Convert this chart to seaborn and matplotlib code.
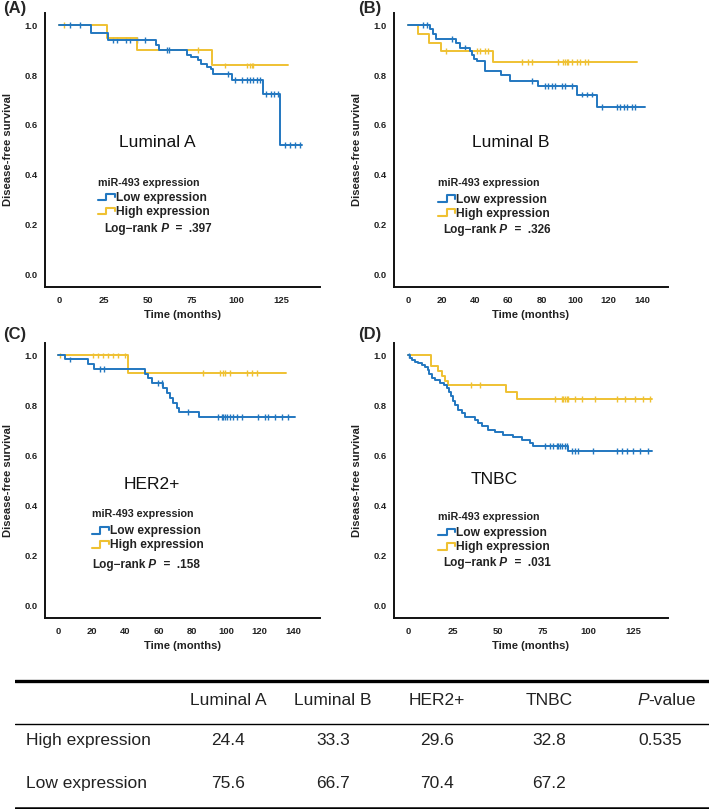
import numpy as np
import pandas as pd
import matplotlib
matplotlib.use("Agg")
import matplotlib.pyplot as plt
import seaborn as sns
from matplotlib import font_manager as fm
from matplotlib.legend_handler import HandlerBase
from matplotlib.lines import Line2D

# ---------- 1. data ----------
panels = ["(A)", "(B)", "(C)", "(D)"]
subtypes = ["Luminal A", "Luminal B", "HER2+", "TNBC"]
logrank_p = [".397", ".326", ".158", ".031"]
x_ticks = [[0, 25, 50, 75, 100, 125],
           [0, 20, 40, 60, 80, 100, 120, 140],
           [0, 20, 40, 60, 80, 100, 120, 140],
           [0, 25, 50, 75, 100, 125]]
y_ticks = [0.0, 0.2, 0.4, 0.6, 0.8, 1.0]

# Luminal A
a_low_t = [18, 27.5, 54.6, 56.5, 71.9, 74.5, 78, 80, 83.5, 85.5, 87, 97.3, 115, 124.4]
a_low_s = [0.969, 0.940, 0.921, 0.902, 0.883, 0.872, 0.859, 0.846, 0.833, 0.823, 0.806, 0.782, 0.726, 0.520]
a_low_end = 136.6
a_low_cens = [6.2, 11.8, 30.4, 32.7, 38, 40, 44, 48.4, 60.6, 62, 95, 99, 102.9, 105.7, 107.5,
              109.4, 111.3, 113.2, 116.6, 119.4, 121.3, 123.2, 127.3, 130, 132.9, 135.7]
a_high_t = [26.8, 43.7, 86.3]
a_high_s = [0.950, 0.902, 0.839]
a_high_end = 128.7
a_high_cens = [3, 78.4, 93.5, 105.7, 107.5, 108.5, 109.4]

# Luminal B
b_low_t = [13.2, 15, 17, 29, 31, 37, 38.5, 39.7, 41, 46, 55.7, 61, 78, 101, 113]
b_low_s = [0.984, 0.966, 0.947, 0.930, 0.910, 0.899, 0.883, 0.867, 0.856, 0.816, 0.800, 0.778, 0.755, 0.722, 0.672]
b_low_end = 141.8
b_low_cens = [9, 11.4, 26.1, 34.1, 74, 82, 84, 86, 88, 92, 94, 98, 104, 107, 110,
              116, 125, 127, 129, 131, 134, 136]
b_high_t = [6.2, 12.6, 19.7, 50.7]
b_high_s = [0.966, 0.930, 0.896, 0.853]
b_high_end = 136.8
b_high_cens = [23, 41, 43, 46, 48, 68, 72, 74, 90, 93, 94, 95, 96, 98, 101, 103, 106, 108]

# HER2+
c_low_t = [4.2, 18, 21.6, 51.8, 53.8, 55.8, 62.7, 64.7, 66.7, 68.7, 70.7, 72.3, 84]
c_low_s = [0.984, 0.965, 0.945, 0.927, 0.909, 0.890, 0.868, 0.848, 0.828, 0.808, 0.790, 0.775, 0.752]
c_low_end = 141.2
c_low_cens = [7.1, 25, 27.6, 59.7, 61.8, 77.6, 95.5, 97.5, 98.5, 99.5, 100.5, 102.4, 104.4,
              106.4, 109.4, 119.3, 123.3, 125.3, 129.2, 133.2, 137.2]
c_high_t = [41.9]
c_high_s = [0.930]
c_high_end = 135.6
c_high_cens = [1.2, 21, 24, 27, 30, 33, 36, 40, 86.5, 96.5, 98, 99.5, 102.4, 112.5, 115.5, 118.5]

# TNBC
d_low_t = [1.1, 2.0, 3.9, 5.7, 7.6, 9.4, 10.9, 11.9, 13.1, 15.0, 17.8, 20.2, 21.5, 22.8, 23.9,
           25.2, 26.1, 27.9, 29.8, 31.7, 37.2, 39.1, 40.9, 44.6, 48.3, 52.9, 58.5, 63.1, 67.8,
           69.6, 89.1]
d_low_s = [0.988, 0.980, 0.974, 0.968, 0.961, 0.953, 0.940, 0.924, 0.910, 0.900, 0.890, 0.881,
           0.870, 0.854, 0.837, 0.819, 0.801, 0.783, 0.770, 0.752, 0.743, 0.729, 0.716, 0.703,
           0.693, 0.683, 0.672, 0.663, 0.649, 0.636, 0.616]
d_low_end = 135.4
d_low_cens = [0.5, 76.1, 78.9, 80.7, 82.6, 83.5, 84.4, 85.4, 87.2, 88.1, 90.9, 92.8, 94.6,
              102.9, 115.9, 118.7, 121.5, 125.2, 128.9, 133.5]
d_high_t = [12.8, 16.5, 18.7, 20.6, 22.0, 54.3, 60.4]
d_high_s = [0.957, 0.937, 0.917, 0.899, 0.880, 0.855, 0.826]
d_high_end = 135.4
d_high_cens = [35, 40, 81.7, 85.4, 86.3, 87.2, 88.1, 89.1, 92.8, 96.5, 103.9, 115.9, 120.6,
               126.1, 130.7, 134.4]

# table under the curves (% of patients)
table_cols = ["Luminal A", "Luminal B", "HER2+", "TNBC"]
table_rows = ["High expression", "Low expression"]
high_pct = [24.4, 33.3, 29.6, 32.8]
low_pct = [75.6, 66.7, 70.4, 67.2]
table_p = "0.535"

curves = [
    (a_low_t, a_low_s, a_low_end, a_low_cens, a_high_t, a_high_s, a_high_end, a_high_cens),
    (b_low_t, b_low_s, b_low_end, b_low_cens, b_high_t, b_high_s, b_high_end, b_high_cens),
    (c_low_t, c_low_s, c_low_end, c_low_cens, c_high_t, c_high_s, c_high_end, c_high_cens),
    (d_low_t, d_low_s, d_low_end, d_low_cens, d_high_t, d_high_s, d_high_end, d_high_cens),
]

# ---------- 2. style ----------
def pick_font(names):
    for n in names:
        try:
            fm.findfont(n, fallback_to_default=False)
            return n
        except Exception:
            pass
    return None

arial = pick_font(["Liberation Sans", "Arial"]) or "DejaVu Sans"
narrow = pick_font(["Liberation Sans Narrow", "Arial Narrow"])
# no narrow face -> plain bold Arial-like at a smaller size to keep the widths
k = 1.0 if narrow else 0.9
narrow = narrow or arial

sns.set_theme(style="white")
plt.rcParams["font.family"] = [narrow, "DejaVu Sans"]
plt.rcParams["font.weight"] = "bold"

BLUE = "#2277c0"
YELLOW = "#efc132"
pal = {"Low": BLUE, "High": YELLOW}


class StepHandler(HandlerBase):
    # little step glyph used by the KM legend
    def create_artists(self, legend, orig_handle, xdescent, ydescent,
                       width, height, fontsize, trans):
        xs = np.array([0, 0.5, 0.5, 1.0, 1.0]) * width - xdescent
        ys = np.array([0.1, 0.1, 0.85, 0.85, 0.45]) * height - ydescent
        ln = Line2D(xs, ys, color=orig_handle.get_color(),
                    lw=orig_handle.get_linewidth(), transform=trans)
        return [ln]


def km_frame(t, s, end, group):
    return pd.DataFrame({"time": [0] + list(t) + [end],
                         "surv": [1.0] + list(s) + [s[-1]],
                         "group": group})


def cens_frame(t, s, cens, group):
    full = np.array([1.0] + list(s))
    idx = np.searchsorted(np.array(t), np.array(cens), side="right")
    return pd.DataFrame({"time": cens, "surv": full[idx], "group": group})


W, H = 709, 809
fig = plt.figure(figsize=(W / 100, H / 100), dpi=100)

# axes boxes in pixels: left, top, right, bottom
boxes = [(45, 13, 320, 287), (394, 13, 668, 287), (45, 343, 320, 618), (394, 343, 668, 618)]
xlims = [(-7.9, 147.0), (-8.4, 155.6), (-7.7, 156.0), (-7.8, 144.4)]
# text anchors in axes fraction: subtype label, legend title, legend box, log-rank line
label_pos = [(0.407, 0.526), (0.427, 0.529), (0.389, 0.484), (0.365, 0.502)]
title_pos = [(0.193, 0.38), (0.161, 0.38), (0.171, 0.378), (0.161, 0.367)]
legend_pos = [(0.193, 0.347), (0.161, 0.340), (0.171, 0.338), (0.161, 0.331)]
logrank_pos = [(0.215, 0.212), (0.179, 0.208), (0.171, 0.193), (0.179, 0.200)]
letter_pos = [(3, 1), (358, 1), (3, 327), (358, 327)]

for i, (l, t, r, b) in enumerate(boxes):
    ax = fig.add_axes([l / W, 1 - b / H, (r - l) / W, (b - t) / H])
    lt, ls, le, lc, ht, hs, he, hc = curves[i]
    lines = pd.concat([km_frame(ht, hs, he, "High"), km_frame(lt, ls, le, "Low")])
    cens = pd.concat([cens_frame(ht, hs, hc, "High"), cens_frame(lt, ls, lc, "Low")])

    sns.lineplot(data=lines, x="time", y="surv", hue="group", palette=pal,
                 hue_order=["High", "Low"], drawstyle="steps-post", estimator=None,
                 sort=False, linewidth=1.4, legend=False, ax=ax)
    sns.scatterplot(data=cens, x="time", y="surv", hue="group", palette=pal,
                    hue_order=["High", "Low"], marker="|", s=18, linewidth=1.0,
                    legend=False, ax=ax)

    ax.set_xlim(*xlims[i])
    ax.set_ylim(-0.052, 1.05)
    ax.set_xticks(x_ticks[i])
    ax.set_yticks(y_ticks)
    ax.set_yticklabels([f"{v:.1f}" for v in y_ticks])
    sns.despine(ax=ax)
    for sp in ("left", "bottom"):
        ax.spines[sp].set_linewidth(1.4)
        ax.spines[sp].set_color("#111111")
    ax.tick_params(axis="both", direction="out", length=3.6, width=0.9,
                   labelsize=7.5 * k, color="#111111", labelcolor="#222222")
    ax.tick_params(axis="x", pad=3)
    ax.tick_params(axis="y", pad=1.5)
    ax.set_xlabel("Time (months)", fontsize=9 * k, fontweight="bold", color="#222222")
    ax.set_ylabel("Disease-free survival", fontsize=9 * k, fontweight="bold", color="#222222")
    ax.xaxis.set_label_coords(0.5, -0.085)
    ax.yaxis.set_label_coords(-0.115, 0.5)

    ax.text(*label_pos[i], subtypes[i], transform=ax.transAxes, ha="center",
            va="center", fontsize=12.5, family=arial, fontweight="normal", color="#111111")

    ax.text(*title_pos[i], "miR-493 expression", transform=ax.transAxes,
            ha="left", va="center", fontsize=8.6 * k, color="#222222")
    handles = [Line2D([], [], color=BLUE, lw=1.5), Line2D([], [], color=YELLOW, lw=1.5)]
    leg = ax.legend(handles, ["Low expression", "High expression"], loc="upper left",
                    bbox_to_anchor=legend_pos[i], frameon=False, borderpad=0,
                    borderaxespad=0, handlelength=1.4, handleheight=0.8,
                    handletextpad=0.1, labelspacing=0.17, fontsize=9.6 * k,
                    handler_map={Line2D: StepHandler()})
    for txt in leg.get_texts():
        txt.set_color("#222222")

    t1 = ax.text(*logrank_pos[i], "Log\u2212rank", transform=ax.transAxes,
                 va="center", ha="left", fontsize=9.4 * k, color="#222222")
    t2 = ax.annotate(" P", xy=(1, 0), xycoords=t1, va="bottom", ha="left",
                     fontsize=9.4 * k, style="italic", color="#222222")
    ax.annotate("  =  " + logrank_p[i], xy=(1, 0), xycoords=t2, va="bottom",
                ha="left", fontsize=9.4 * k, color="#222222")

    fig.text(letter_pos[i][0] / W, 1 - letter_pos[i][1] / H, panels[i],
             ha="left", va="top", fontsize=12, family=arial, fontweight="bold")

# ---------- 3. table ----------
tab = fig.add_axes([15 / W, 0, 1 - 15 / W, (H - 672) / H])
tab.set_xlim(15, W)
tab.set_ylim(H, 672)
tab.axis("off")
tab.axhline(681, color="black", lw=2.4)
tab.axhline(724, color="black", lw=1.0)
tab.axhline(807.5, color="black", lw=1.8)

col_x = [228, 333, 437, 549]
tkw = dict(fontsize=12.5, family=arial, fontweight="normal", color="#222222", va="baseline")
for cx, name in zip(col_x, table_cols):
    tab.text(cx, 705, name, ha="center", **tkw)
pt = tab.text(637, 705, "P", ha="left", style="italic", **tkw)
tab.annotate("-value", xy=(1, 0), xycoords=pt, va="bottom", ha="left",
             fontsize=12.5, family=arial, fontweight="normal", color="#222222")

for row_y, row_name, vals in zip([745, 788], table_rows, [high_pct, low_pct]):
    tab.text(26, row_y, row_name, ha="left", **tkw)
    for cx, v in zip(col_x, vals):
        tab.text(cx, row_y, f"{v:.1f}", ha="center", **tkw)
tab.text(660, 745, table_p, ha="center", **tkw)

fig.savefig("out.png", dpi=100)
